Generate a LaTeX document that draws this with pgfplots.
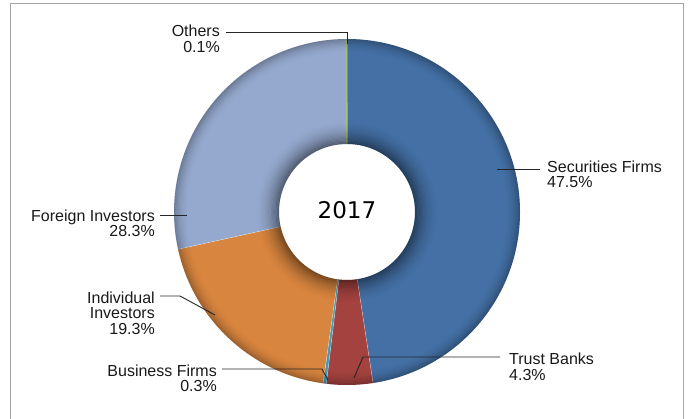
\documentclass[border=0pt]{standalone}
\usepackage{pgfplots}
\pgfplotsset{compat=1.18}
\usepackage{fontspec}
\setmainfont{Liberation Sans}
\newfontfamily\yearfont{DejaVu Sans}
\definecolor{cSec}{HTML}{4470A5}
\definecolor{cTru}{HTML}{A3423F}
\definecolor{cBus}{HTML}{3F9BB8}
\definecolor{cInd}{HTML}{D8853F}
\definecolor{cFor}{HTML}{95A9CE}
\definecolor{cOth}{HTML}{A9C16E}
\definecolor{frame}{HTML}{A6A6A6}
% shares in percent
\newcommand\vSec{47.5}
\newcommand\vTru{4.3}
\newcommand\vBus{0.3}
\newcommand\vInd{19.3}
\newcommand\vFor{28.3}
\newcommand\vOth{0.1}
\newcommand\ringseg[3]{\fill[#3] (axis cs:347,207) ++(#1:173pt) arc[start angle=#1,end angle=#2,radius=173pt] -- ++(#2:-105pt) arc[start angle=#2,end angle=#1,radius=68pt] -- cycle;}
\newcommand\sep[1]{\draw[white, opacity=0.5, line width=0.5pt] (axis cs:347,207) ++(#1:68pt) -- ++(#1:105pt);}
\pgfplotsset{base/.style={xmin=0,xmax=691,ymin=0,ymax=419,width=691pt,height=419pt,scale only axis,hide axis,clip=false}}
\begin{document}
\begin{tikzpicture}
\pgfmathsetmacro\tot{\vSec+\vTru+\vBus+\vInd+\vFor+\vOth}
\pgfmathsetmacro\k{360/\tot}
\pgfmathsetmacro\aA{90}
\pgfmathsetmacro\aB{\aA-\k*\vSec}
\pgfmathsetmacro\aC{\aB-\k*\vTru}
\pgfmathsetmacro\aD{\aC-\k*\vBus}
\pgfmathsetmacro\aE{\aD-\k*\vInd}
\pgfmathsetmacro\aF{\aE-\k*\vFor}
\pgfmathsetmacro\aG{\aF-\k*\vOth}
\begin{axis}[base]
\coordinate (SW) at (axis cs:0,0);
\coordinate (NE) at (axis cs:691,419);
\coordinate (C) at (axis cs:347,207);
\ringseg{\aA}{\aB}{cSec}
\ringseg{\aB}{\aC}{cTru}
\ringseg{\aC}{\aD}{cBus}
\ringseg{\aD}{\aE}{cInd}
\ringseg{\aE}{\aF}{cFor}
\ringseg{\aF}{\aG}{cOth}
\sep{\aB}\sep{\aC}\sep{\aD}\sep{\aE}
\draw[cOth, line width=1.6pt] (axis cs:347,207) ++(\aF-0.2:68.5pt) -- ++(\aF-0.2:104pt);
\end{axis}
% bevel shading of the ring
\foreach \i in {0,...,19}{
  \pgfmathsetmacro\rr{68.6+\i*1.2}
  \pgfmathsetmacro\op{0.42*(1-\i/20)^2}
  \draw[black, opacity=\op, line width=1.2pt] (C) circle[radius=\rr pt];
}
\foreach \i in {0,...,11}{
  \pgfmathsetmacro\rr{172.4-\i*1.2}
  \pgfmathsetmacro\op{0.25*(1-\i/12)^2}
  \draw[black, opacity=\op, line width=1.2pt] (C) circle[radius=\rr pt];
}
\begin{axis}[base]
\draw[frame, line width=1.5pt] (axis cs:10.5,0) -- (axis cs:10.5,415.5) -- (axis cs:683.5,415.5) -- (axis cs:683.5,0);
\tikzset{lead/.style={black!85, line width=0.9pt}, lab/.style={inner sep=0pt, text=black!90, font=\fontsize{16}{15.5}\selectfont}}
% leader lines
\draw[lead] (axis cs:226,387) -- (axis cs:347,387) -- (axis cs:347,375);
\draw[lead] (axis cs:497,250) -- (axis cs:540,250);
\draw[lead] (axis cs:354,41) -- (axis cs:363,62) -- (axis cs:500,62);
\draw[lead] (axis cs:160,123) -- (axis cs:180,123) -- (axis cs:215,104);
\draw[lead] (axis cs:222,50) -- (axis cs:322,50) -- (axis cs:328,39);
\draw[lead] (axis cs:160,204) -- (axis cs:187,204);
% labels
\node[lab, anchor=base east] at (axis cs:220,382) {Others};
\node[lab, anchor=base east] at (axis cs:220,366) {0.1\%};
\node[lab, anchor=base west] at (axis cs:547,246) {Securities Firms};
\node[lab, anchor=base west] at (axis cs:547,231) {47.5\%};
\node[lab, anchor=base west] at (axis cs:509,54) {Trust Banks};
\node[lab, anchor=base west] at (axis cs:509,38) {4.3\%};
\node[lab, anchor=base east] at (axis cs:217,42) {Business Firms};
\node[lab, anchor=base east] at (axis cs:217,27) {0.3\%};
\node[lab, anchor=base east] at (axis cs:155,115) {Individual};
\node[lab, anchor=base east] at (axis cs:155,100) {Investors};
\node[lab, anchor=base east] at (axis cs:155,84) {19.3\%};
\node[lab, anchor=base east] at (axis cs:155,197) {Foreign Investors};
\node[lab, anchor=base east] at (axis cs:155,182) {28.3\%};
\node[inner sep=0pt, text=black, font=\yearfont\fontsize{23}{23}\selectfont] at (axis cs:347,209) {2017};
\end{axis}
\pgfresetboundingbox
\path[use as bounding box] (SW) rectangle (NE);
\end{tikzpicture}
\end{document}
